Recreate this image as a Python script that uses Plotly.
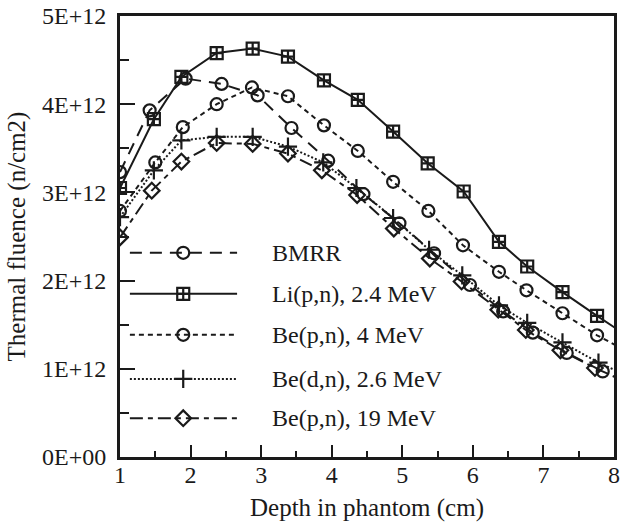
import plotly.graph_objects as go

# ---------------- data ----------------
bmrr_x = [1.0, 1.42, 1.93, 2.44, 2.95, 3.43, 3.95, 4.45, 4.96, 5.45, 5.96, 6.43, 6.85, 7.33, 7.84]
bmrr_y = [3.23, 3.93, 4.29, 4.23, 4.10, 3.73, 3.36, 2.98, 2.65, 2.31, 1.95, 1.65, 1.41, 1.18, 0.97]

li_x = [1.0, 1.48, 1.87, 2.37, 2.88, 3.38, 3.89, 4.37, 4.87, 5.36, 5.87, 6.37, 6.77, 7.27, 7.76, 8.25]
li_y = [3.05, 3.83, 4.31, 4.58, 4.63, 4.54, 4.27, 4.05, 3.69, 3.33, 3.01, 2.44, 2.16, 1.87, 1.60, 1.34]

be4_x = [1.0, 1.50, 1.89, 2.37, 2.87, 3.38, 3.89, 4.37, 4.87, 5.37, 5.86, 6.37, 6.76, 7.27, 7.76, 8.25]
be4_y = [2.79, 3.34, 3.74, 4.00, 4.19, 4.09, 3.76, 3.47, 3.12, 2.79, 2.40, 2.10, 1.89, 1.63, 1.38, 1.17]

bed_x = [1.0, 1.48, 1.87, 2.37, 2.88, 3.38, 3.88, 4.35, 4.87, 5.38, 5.85, 6.37, 6.77, 7.27, 7.78, 8.25]
bed_y = [2.72, 3.25, 3.59, 3.63, 3.63, 3.52, 3.34, 3.05, 2.71, 2.35, 2.06, 1.72, 1.52, 1.30, 1.07, 0.90]

be19_x = [1.0, 1.45, 1.87, 2.37, 2.88, 3.38, 3.86, 4.36, 4.88, 5.39, 5.84, 6.36, 6.75, 7.24, 7.73, 8.25]
be19_y = [2.49, 3.02, 3.35, 3.56, 3.55, 3.44, 3.25, 2.97, 2.59, 2.25, 1.99, 1.67, 1.44, 1.21, 1.01, 0.82]

series_names = ["BMRR", "Li(p,n), 2.4 MeV", "Be(p,n), 4 MeV", "Be(d,n), 2.6 MeV", "Be(p,n), 19 MeV"]

y_tick_vals = [0, 1e12, 2e12, 3e12, 4e12, 5e12]
y_tick_text = ["0E+00", "1E+12", "2E+12", "3E+12", "4E+12", "5E+12"]
x_tick_vals = [1, 2, 3, 4, 5, 6, 7, 8]

SCALE = 1e12
FONT = "Liberation Serif"
INK = "#1a1a1a"

styles = [
    dict(dash="12px,8px", symbol="circle-open", size=12),
    dict(dash="solid", symbol="square-cross-open", size=12),
    dict(dash="5px,4px", symbol="circle-open", size=12),
    dict(dash="2px,2px", symbol="cross-thin-open", size=13),
    dict(dash="13px,5px,5px,5px", symbol="diamond-open", size=12),
]

data = [(bmrr_x, bmrr_y), (li_x, li_y), (be4_x, be4_y), (bed_x, bed_y), (be19_x, be19_y)]

fig = go.Figure()
for (xs, ys), st, name in zip(data, styles, series_names):
    fig.add_trace(go.Scatter(
        x=xs, y=[v * SCALE for v in ys], mode="lines+markers", name=name,
        line=dict(color=INK, width=2, dash=st["dash"]),
        marker=dict(symbol=st["symbol"], size=st["size"], color=INK,
                    line=dict(color=INK, width=2.2)),
        showlegend=False, cliponaxis=True,
    ))

# ---------- hand-drawn legend (long line samples) on an overlay axis ----------
leg_x0, leg_x1, leg_xm, leg_tx = 0.020, 0.237, 0.128, 0.304
leg_rows = [0.463, 0.370, 0.277, 0.177, 0.088]
for st, name, ry in zip(styles, series_names, leg_rows):
    fig.add_trace(go.Scatter(
        x=[leg_x0, leg_x1], y=[ry, ry], xaxis="x2", yaxis="y2", mode="lines",
        line=dict(color=INK, width=2, dash=st["dash"]), showlegend=False, hoverinfo="skip"))
    fig.add_trace(go.Scatter(
        x=[leg_xm], y=[ry], xaxis="x2", yaxis="y2", mode="markers",
        marker=dict(symbol=st["symbol"], size=st["size"], color=INK,
                    line=dict(color=INK, width=2.2)),
        showlegend=False, hoverinfo="skip"))
    fig.add_annotation(x=leg_tx, y=ry, xref="paper", yref="paper", text=name,
                       showarrow=False, xanchor="left", yanchor="middle",
                       font=dict(family=FONT, size=24, color=INK))

axis_common = dict(
    showline=True, linecolor=INK, linewidth=3, mirror=True, automargin=False,
    ticks="inside", tickcolor=INK, tickwidth=2, showgrid=False, zeroline=False,
    ticklabeloverflow="allow",
    tickfont=dict(family=FONT, size=24, color=INK),
)

fig.update_layout(
    width=621, height=529,
    margin=dict(l=120, r=7, t=16, b=72),
    paper_bgcolor="white", plot_bgcolor="white",
    showlegend=False, hovermode=False,
    xaxis=dict(range=[1, 8], tickvals=x_tick_vals, ticklen=12,
               minor=dict(dtick=0.5, ticks="inside", ticklen=6, tickwidth=2, tickcolor=INK),
               ticklabelstandoff=-6,
               title=dict(text="Depth in phantom (cm)", standoff=12,
                          font=dict(family=FONT, size=25, color=INK)),
               **axis_common),
    yaxis=dict(range=[0, 5e12], tickvals=y_tick_vals, ticktext=y_tick_text, ticklen=15,
               minor=dict(dtick=0.5e12, ticks="inside", ticklen=9, tickwidth=2, tickcolor=INK),
               ticklabelstandoff=6,
               title=dict(text="Thermal fluence (n/cm2)", standoff=10,
                          font=dict(family=FONT, size=25, color=INK)),
               **axis_common),
    xaxis2=dict(overlaying="x", range=[0, 1], visible=False, fixedrange=True),
    yaxis2=dict(overlaying="y", range=[0, 1], visible=False, fixedrange=True),
)

fig.write_html("out.html", config={"displayModeBar": False},
               post_script="document.body.style.margin='0';document.body.style.overflow='hidden';")
